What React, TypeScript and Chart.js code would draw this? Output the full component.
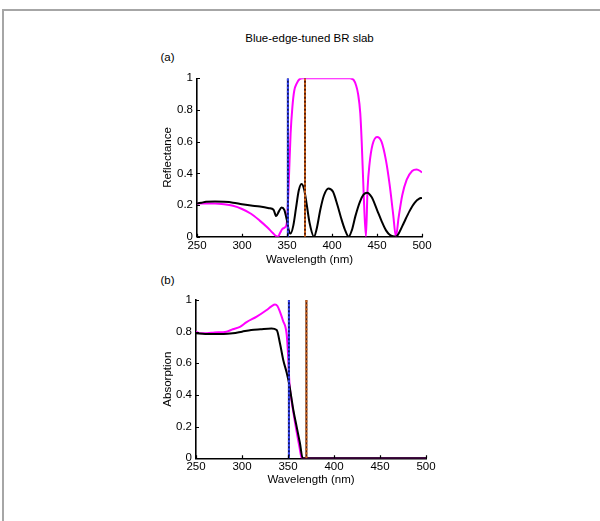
import React, { useEffect, useRef } from "react";
import { Chart, registerables } from "chart.js";

Chart.register(...registerables);

// ---- Data ----
const xTickValues = [250, 300, 350, 400, 450, 500];
const yTickValues = [0, 0.2, 0.4, 0.6, 0.8, 1];

const figureTitle = "Blue-edge-tuned BR slab";
const panelLabels = ["(a)", "(b)"];
const xAxisLabel = "Wavelength (nm)";
const yAxisLabels = ["Reflectance", "Absorption"];

// Panel (a): reflectance
const reflBlackNm = [250, 255, 260, 270, 280, 290, 300, 310, 320, 330, 335, 338, 341, 344, 347, 350, 352, 354, 357, 360, 363, 366, 369, 372, 375, 380, 383, 387, 391, 396, 401, 406, 410, 414, 418.5, 422, 426, 431, 435, 439, 444, 450, 455, 460, 465, 471, 475, 480, 486, 492, 497, 500];
const reflBlackVal = [0.21, 0.215, 0.22, 0.222, 0.22, 0.215, 0.205, 0.197, 0.19, 0.18, 0.17, 0.13, 0.16, 0.185, 0.17, 0.1, 0.04, 0.02, 0.07, 0.18, 0.29, 0.333, 0.3, 0.2, 0.09, 0.0, 0.05, 0.17, 0.26, 0.305, 0.285, 0.2, 0.12, 0.05, 0.0, 0.04, 0.13, 0.22, 0.265, 0.278, 0.25, 0.17, 0.1, 0.04, 0.008, 0.0, 0.03, 0.09, 0.16, 0.215, 0.24, 0.245];

const reflMagentaNm = [250, 260, 270, 280, 290, 300, 310, 320, 328, 334, 338, 340, 342, 345, 348, 350, 352, 354, 356, 358, 361, 364, 367.5, 380, 400, 420, 422, 424, 426.6, 429, 431.4, 433, 435, 437.7, 439.5, 441.7, 445, 450, 455, 460, 464, 468, 471, 474, 478, 483, 489, 494, 498, 500];
const reflMagentaVal = [0.21, 0.21, 0.21, 0.205, 0.195, 0.175, 0.145, 0.1, 0.06, 0.025, 0.003, 0.0, 0.02, 0.05, 0.06, 0.1, 0.35, 0.65, 0.82, 0.92, 0.97, 0.995, 1.0, 1.0, 1.0, 1.0, 0.997, 0.99, 0.958, 0.9, 0.78, 0.6, 0.3, 0.0, 0.3, 0.46, 0.58, 0.63, 0.6, 0.48, 0.33, 0.14, 0.0, 0.12, 0.26, 0.36, 0.415, 0.425, 0.415, 0.405];

// Panel (b): absorption
const absBlackNm = [250, 260, 270, 280, 290, 300, 310, 320, 332, 337.7, 341.3, 344.9, 348.6, 351.1, 353.5, 355.8, 359.4, 363, 366, 380, 420, 460, 500];
const absBlackVal = [0.79, 0.785, 0.785, 0.785, 0.79, 0.8, 0.81, 0.815, 0.82, 0.81, 0.725, 0.62, 0.54, 0.475, 0.39, 0.305, 0.2, 0.095, 0.0, 0.0, 0.0, 0.0, 0.0];

const absMagentaNm = [250, 255, 262, 270, 283, 290, 297.8, 305, 316, 326.8, 332, 335.9, 338.5, 341.3, 344.5, 348.6, 350.2, 351.5, 353, 355, 359, 362.5, 365, 380, 420, 460, 500];
const absMagentaVal = [0.8, 0.79, 0.79, 0.795, 0.8, 0.815, 0.83, 0.86, 0.895, 0.937, 0.96, 0.971, 0.962, 0.925, 0.87, 0.78, 0.64, 0.48, 0.4, 0.32, 0.18, 0.07, 0.0, 0.0, 0.0, 0.0, 0.0];

// marker wavelengths (vertical lines)
const blueMarkerNm = 351;
const brownMarkerNm = 370;

const FONT = "'Liberation Sans', Arial, Helvetica, sans-serif";

const inwardTicks = {
  id: "inwardTicks",
  afterDraw(chart: any) {
    const { ctx, chartArea, scales } = chart;
    const xs = scales.x;
    const ys = scales.y;
    ctx.save();
    ctx.strokeStyle = "#000";
    ctx.lineWidth = 1.2;
    ctx.beginPath();
    xs.ticks.forEach((t: any) => {
      const px = Math.round(xs.getPixelForValue(t.value)) + 0.5;
      ctx.moveTo(px, chartArea.bottom);
      ctx.lineTo(px, chartArea.bottom - 3);
    });
    ys.ticks.forEach((t: any) => {
      const py = Math.round(ys.getPixelForValue(t.value)) + 0.5;
      ctx.moveTo(chartArea.left, py);
      ctx.lineTo(chartArea.left + 3, py);
    });
    ctx.stroke();
    ctx.restore();
  },
};

function pts(xs: number[], ys: number[]) {
  return xs.map((x, i) => ({ x, y: ys[i] }));
}

function vline(nm: number, color: string, dash: number[] | undefined, width: number) {
  return {
    data: [
      { x: nm, y: 0 },
      { x: nm, y: 1 },
    ],
    borderColor: color,
    borderWidth: width,
    borderDash: dash,
    pointRadius: 0,
    tension: 0,
  };
}

interface PanelSpec {
  blackX: number[];
  blackY: number[];
  magX: number[];
  magY: number[];
  yLabel: string;
  left: number;
  right: number;
  top: number;
  bottom: number;
  xLabelY: number;
  yLabelX: number;
}

function buildChart(canvas: HTMLCanvasElement, p: PanelSpec) {
  const lh = 11.5 * 1.2;
  const yW = p.left - (p.yLabelX - lh / 2);
  const xH = p.xLabelY + lh / 2 - p.bottom;
  const W = 600;
  const H = 521;
  return new Chart(canvas, {
    type: "line",
    data: {
      datasets: [
        vline(brownMarkerNm, "#d2691e", [2, 2], 2),
        vline(brownMarkerNm, "#5a1e0a", undefined, 2),
        vline(blueMarkerNm, "#3a4cff", [2, 2], 2),
        vline(blueMarkerNm, "#10106a", undefined, 2),
        {
          data: pts(p.blackX, p.blackY),
          borderColor: "#000000",
          borderWidth: 2,
          pointRadius: 0,
          cubicInterpolationMode: "monotone",
        },
        {
          data: pts(p.magX, p.magY),
          borderColor: "#ff00ff",
          borderWidth: 2,
          pointRadius: 0,
          cubicInterpolationMode: "monotone",
        },
      ] as any,
    },
    options: {
      responsive: false,
      animation: false,
      events: [],
      layout: {
        padding: {
          left: p.left - yW,
          right: W - p.right,
          top: p.top,
          bottom: H - p.bottom - xH,
        },
      },
      plugins: {
        legend: { display: false },
        tooltip: { enabled: false },
        title: { display: false },
      },
      scales: {
        x: {
          type: "linear",
          min: 250,
          max: 500,
          afterBuildTicks: (s: any) => {
            s.ticks = xTickValues.map((v) => ({ value: v }));
          },
          afterFit: (s: any) => {
            s.height = xH;
          },
          grid: { display: false, drawTicks: false },
          border: { display: true, color: "#000", width: 1.6 },
          ticks: {
            color: "#000",
            padding: 2,
            maxRotation: 0,
            autoSkip: false,
            font: { family: FONT, size: 11.5 },
            callback: (v: any) => String(v),
          },
          title: {
            display: true,
            text: xAxisLabel,
            color: "#000",
            padding: 0,
            font: { family: FONT, size: 11.5 },
          },
        },
        y: {
          type: "linear",
          min: 0,
          max: 1,
          afterBuildTicks: (s: any) => {
            s.ticks = yTickValues.map((v) => ({ value: v }));
          },
          afterFit: (s: any) => {
            s.width = yW;
          },
          grid: { display: false, drawTicks: false },
          border: { display: true, color: "#000", width: 1.6 },
          ticks: {
            color: "#000",
            padding: 4,
            autoSkip: false,
            font: { family: FONT, size: 11.5 },
            callback: (v: any) => String(Math.round(v * 10) / 10),
          },
          title: {
            display: true,
            text: p.yLabel,
            color: "#000",
            padding: 0,
            font: { family: FONT, size: 11.5 },
          },
        },
      },
    } as any,
    plugins: [inwardTicks],
  });
}

export default function App() {
  const refA = useRef<HTMLCanvasElement>(null);
  const refB = useRef<HTMLCanvasElement>(null);

  useEffect(() => {
    const a = buildChart(refA.current!, {
      blackX: reflBlackNm,
      blackY: reflBlackVal,
      magX: reflMagentaNm,
      magY: reflMagentaVal,
      yLabel: yAxisLabels[0],
      left: 197,
      right: 422,
      top: 78.3,
      bottom: 236.7,
      xLabelY: 260,
      yLabelX: 167.5,
    });
    const b = buildChart(refB.current!, {
      blackX: absBlackNm,
      blackY: absBlackVal,
      magX: absMagentaNm,
      magY: absMagentaVal,
      yLabel: yAxisLabels[1],
      left: 196,
      right: 426,
      top: 300,
      bottom: 458.3,
      xLabelY: 480,
      yLabelX: 167.5,
    });
    return () => {
      a.destroy();
      b.destroy();
    };
  }, []);

  const canvasStyle: React.CSSProperties = {
    position: "absolute",
    left: 0,
    top: 0,
    width: 600,
    height: 521,
  };
  const textStyle: React.CSSProperties = {
    position: "absolute",
    fontFamily: FONT,
    fontSize: 11.5,
    lineHeight: "14px",
    color: "#000",
    whiteSpace: "nowrap",
  };

  return (
    <div
      style={{
        position: "absolute",
        left: 0,
        top: 0,
        width: 600,
        height: 521,
        background: "#fff",
        overflow: "hidden",
      }}
    >
      <div
        style={{
          position: "absolute",
          left: 2,
          top: 9,
          width: 620,
          height: 540,
          borderTop: "2px solid #a6a6a6",
          borderLeft: "2px solid #a6a6a6",
        }}
      />
      <div style={{ ...textStyle, left: 0, width: 619, top: 31, textAlign: "center" }}>{figureTitle}</div>
      <div style={{ ...textStyle, left: 160.5, top: 50 }}>{panelLabels[0]}</div>
      <div style={{ ...textStyle, left: 160.5, top: 273 }}>{panelLabels[1]}</div>
      <canvas ref={refA} width={600} height={521} style={canvasStyle} />
      <canvas ref={refB} width={600} height={521} style={canvasStyle} />
    </div>
  );
}
